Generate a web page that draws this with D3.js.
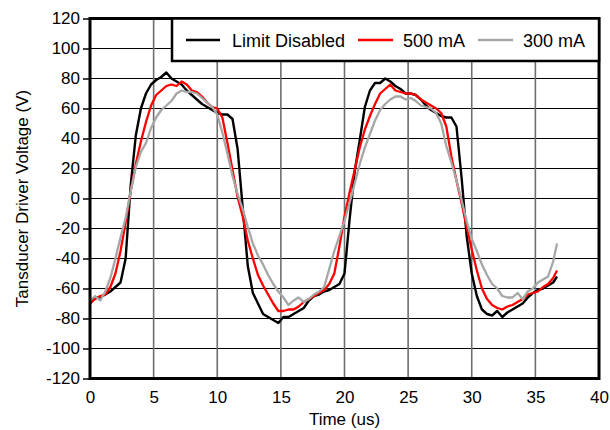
<!DOCTYPE html>
<html>
<head>
<meta charset="utf-8">
<script src="https://cdnjs.cloudflare.com/ajax/libs/d3/7.8.5/d3.min.js"></script>
<style>
  html, body { margin: 0; padding: 0; background: #fff; }
  svg { display: block; font-family: "Liberation Sans", Arial, sans-serif; }
</style>
</head>
<body>
<svg id="chart" width="610" height="430"></svg>
<script>
// ---- data ----
const timeUs = [
  0, 0.4, 0.8, 1.2, 1.6, 2.0, 2.4, 2.8, 3.2, 3.6, 4.0, 4.4, 4.8, 5.2, 5.6, 6.0, 6.4, 6.8, 7.2, 7.6,
  8.0, 8.4, 8.8, 9.2, 9.6, 10.0, 10.4, 10.8, 11.2, 11.6, 12.0, 12.4, 12.8, 13.2, 13.6, 14.0, 14.4, 14.8, 15.2, 15.6,
  16.0, 16.4, 16.8, 17.2, 17.6, 18.0, 18.4, 18.8, 19.2, 19.6, 20.0, 20.4, 20.8, 21.2, 21.6, 22.0, 22.4, 22.8, 23.2, 23.6,
  24.0, 24.4, 24.8, 25.2, 25.6, 26.0, 26.4, 26.8, 27.2, 27.6, 28.0, 28.4, 28.8, 29.2, 29.6, 30.0, 30.4, 30.8, 31.2, 31.6,
  32.0, 32.4, 32.8, 33.2, 33.6, 34.0, 34.4, 34.8, 35.2, 35.6, 36.0, 36.4, 36.7
];
const limitDisabled = [
  -70, -66, -66, -64, -62, -59, -56, -40, 9, 42, 60, 70, 76, 79, 81, 84, 80, 78, 76, 72,
  69, 66, 63, 61, 59, 57, 56, 56, 53, 33, -6, -45, -63, -70, -77, -79, -81, -83, -79, -79,
  -77, -75, -73, -68, -65, -64, -62, -61, -59, -57, -50, -14, 18, 39, 61, 72, 77, 77, 80, 78,
  75, 73, 70, 70, 69, 66, 62, 59, 57, 55, 54, 54, 48, 14, -25, -50, -65, -74, -77, -78,
  -75, -79, -76, -74, -72, -70, -66, -63, -61, -60, -58, -56, -52
];
const ma500 = [
  -70, -67, -65, -64, -59, -50, -35, -16, 5, 23, 38, 51, 62, 69, 72, 75, 76, 75, 78, 76,
  72, 71, 68, 64, 61, 60, 54, 37, 19, 1, -12, -28, -40, -51, -58, -64, -70, -75, -75, -74,
  -74, -72, -69, -67, -65, -63, -61, -57, -50, -32, -12, 4, 19, 34, 46, 55, 63, 70, 73, 76,
  72, 71, 70, 70, 69, 66, 64, 62, 60, 57, 48, 28, 12, -3, -19, -34, -48, -60, -67, -71,
  -73, -74, -72, -71, -69, -67, -64, -63, -62, -59, -57, -53, -48
];
const ma300 = [
  -68, -65, -68, -62, -53, -40, -26, -13, 5, 21, 31, 37, 47, 54, 59, 62, 65, 70, 72, 71,
  71, 70, 67, 64, 61, 56, 44, 30, 15, 3, -7, -19, -30, -38, -44, -51, -57, -62, -66, -71,
  -68, -66, -69, -67, -64, -62, -59, -47, -35, -25, -15, -3, 10, 23, 34, 43, 52, 59, 63, 66,
  68, 68, 66, 67, 65, 62, 61, 60, 57, 50, 35, 24, 12, -1, -15, -27, -35, -44, -51, -57,
  -60, -65, -66, -66, -63, -67, -62, -60, -56, -54, -52, -42, -30
];
const seriesNames = ["Limit Disabled", "500 mA", "300 mA"];
const seriesColors = ["#000000", "#ff0000", "#a6a6a6"];
const xTicks = [0, 5, 10, 15, 20, 25, 30, 35, 40];
const yTicks = [-120, -100, -80, -60, -40, -20, 0, 20, 40, 60, 80, 100, 120];
const xTitle = "Time (us)";
const yTitle = "Tansducer Driver Voltage (V)";

// ---- drawing ----
(function () {
const svg = d3.select("#chart");
const pL = 90, pR = 599, pT = 18.5, pB = 378.5;
const x = d3.scaleLinear().domain([0, 40]).range([pL, pR]);
const y = d3.scaleLinear().domain([-120, 120]).range([pB, pT]);
const fmt = d => String(d);

// horizontal grid
svg.append("g").selectAll("line").data(yTicks).join("line")
  .attr("x1", pL).attr("x2", pR)
  .attr("y1", d => y(d)).attr("y2", d => y(d))
  .attr("stroke", "#000").attr("stroke-width", 1.2);
// vertical grid
svg.append("g").selectAll("line").data(xTicks).join("line")
  .attr("x1", d => x(d)).attr("x2", d => x(d))
  .attr("y1", pT).attr("y2", pB)
  .attr("stroke", "#6e6e6e").attr("stroke-width", 1.6);

// y axis ticks and labels
const yAxis = d3.axisLeft(y).tickValues(yTicks).tickSize(7).tickPadding(3).tickFormat(fmt);
const gy = svg.append("g").attr("transform", `translate(${pL},0)`).call(yAxis);
gy.select(".domain").remove();
gy.selectAll(".tick line").attr("stroke", "#000").attr("stroke-width", 1.5);
gy.selectAll(".tick text").attr("font-size", 17).attr("fill", "#000")
  .attr("font-family", "Liberation Sans, Arial, sans-serif");

// x axis labels
const xAxis = d3.axisBottom(x).tickValues(xTicks).tickSize(0).tickPadding(12).tickFormat(fmt);
const gx = svg.append("g").attr("transform", `translate(0,${pB})`).call(xAxis);
gx.select(".domain").remove();
gx.selectAll(".tick text").attr("font-size", 17).attr("fill", "#000")
  .attr("font-family", "Liberation Sans, Arial, sans-serif");

// series
const allSeries = [limitDisabled, ma500, ma300];
const line = d3.line().x(d => x(d[0])).y(d => y(d[1]));
allSeries.forEach((vals, i) => {
  const pts = timeUs.map((t, k) => [t, vals[k]]);
  svg.append("path").datum(pts)
    .attr("d", line)
    .attr("fill", "none")
    .attr("stroke", seriesColors[i])
    .attr("stroke-width", i === 0 ? 2.4 : 2.3)
    .attr("stroke-linejoin", "round");
});

// frame
svg.append("rect")
  .attr("x", pL).attr("y", pT)
  .attr("width", pR - pL).attr("height", pB - pT)
  .attr("fill", "none").attr("stroke", "#000").attr("stroke-width", 3);

// legend
const lg = svg.append("g");
lg.append("rect").attr("x", 172).attr("y", pT).attr("width", pR - 172).attr("height", 42.5)
  .attr("fill", "#fff").attr("stroke", "#000").attr("stroke-width", 2.5);
const legX = [[186, 220, 232], [358, 393, 403], [478, 513, 523]];
seriesNames.forEach((name, i) => {
  lg.append("line").attr("x1", legX[i][0]).attr("x2", legX[i][1])
    .attr("y1", 40).attr("y2", 40)
    .attr("stroke", seriesColors[i]).attr("stroke-width", 2.6);
  lg.append("text").attr("x", legX[i][2]).attr("y", 46.5)
    .attr("font-size", 18).attr("fill", "#000").text(name);
});

// axis titles
svg.append("text").attr("x", (pL + pR) / 2).attr("y", 425)
  .attr("text-anchor", "middle").attr("font-size", 17).text(xTitle);
svg.append("text")
  .attr("transform", `translate(28,${(pT + pB) / 2}) rotate(-90)`)
  .attr("text-anchor", "middle").attr("font-size", 17).text(yTitle);
})();
</script>
</body>
</html>
